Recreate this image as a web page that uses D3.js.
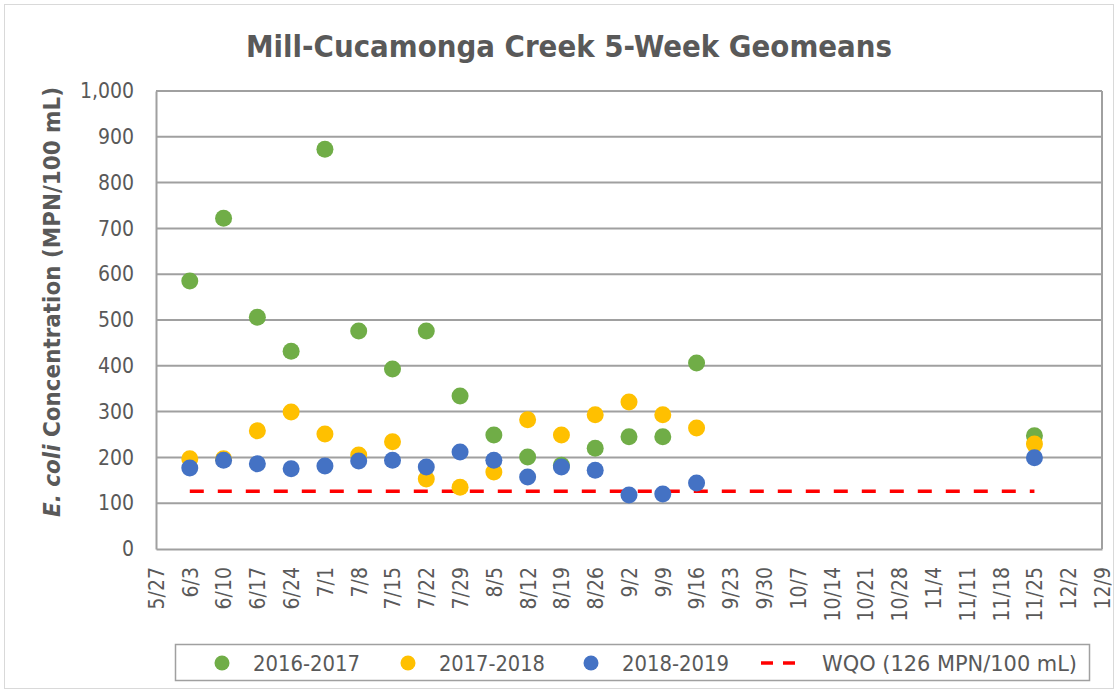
<!DOCTYPE html>
<html>
<head>
<meta charset="utf-8">
<script src="https://cdn.jsdelivr.net/npm/d3@7"></script>
<style>
  body { margin: 0; background: #fff; }
  svg text { font-family: "Liberation Sans Narrow", "DejaVu Sans Condensed", "Open Sans", sans-serif; fill: #595959; }
</style>
</head>
<body>
<div id="chart"></div>
<script>
// week-start tick labels along the x axis
const tickLabels = ['5/27', '6/3', '6/10', '6/17', '6/24', '7/1', '7/8', '7/15', '7/22', '7/29',
  '8/5', '8/12', '8/19', '8/26', '9/2', '9/9', '9/16', '9/23', '9/30', '10/7', '10/14',
  '10/21', '10/28', '11/4', '11/11', '11/18', '11/25', '12/2', '12/9']

// sample dates (5-week geomean end dates)
const sampleDates = ['6/3', '6/10', '6/17', '6/24', '7/1', '7/8', '7/15', '7/22', '7/29',
  '8/5', '8/12', '8/19', '8/26', '9/2', '9/9', '9/16', '11/25']

const values2016 = [585, 722, 506, 432, 873, 476, 393, 476, 334, 249, 201, 183, 220, 245, 245, 406, 247]
const values2017 = [197, 197, 258, 299, 251, 205, 234, 153, 135, 168, 282, 249, 293, 321, 293, 264, 229]
const values2018 = [177, 194, 186, 175, 181, 192, 194, 179, 212, 194, 157, 179, 172, 118, 120, 144, 199]

const wqo = 126
const wqoRange = ['6/3', '11/25']
const yTicks = [0, 100, 200, 300, 400, 500, 600, 700, 800, 900, 1000]

const seriesNames = ['2016-2017', '2017-2018', '2018-2019']
const seriesColors = ['#70ad47', '#ffc000', '#4472c4']

const parseDay = s => {
    const [m, d] = s.split('/').map(Number)
    return new Date(2018, m - 1, d)
}

const series = [values2016, values2017, values2018].map((vals, i) => ({
    name: seriesNames[i],
    color: seriesColors[i],
    data: vals.map((v, j) => ({ date: parseDay(sampleDates[j]), value: v })),
}))

const W = 1118, H = 690
const margin = { top: 91, right: 16, bottom: 141, left: 156 }
const width = W - margin.left - margin.right
const height = H - margin.top - margin.bottom

const svg = d3.select('#chart').append('svg')
    .attr('width', W)
    .attr('height', H)

// outer chart border
svg.append('rect')
    .attr('x', 4.5).attr('y', 4.5)
    .attr('width', W - 9).attr('height', H - 6)
    .attr('fill', '#fff')
    .attr('stroke', '#d9d9d9')

svg.append('text')
    .attr('x', 569)
    .attr('y', 57)
    .attr('text-anchor', 'middle')
    .attr('textLength', 646)
    .attr('lengthAdjust', 'spacingAndGlyphs')
    .style('font-size', '30px')
    .style('font-weight', '600')
    .text('Mill-Cucamonga Creek 5-Week Geomeans')

const g = svg.append('g')
    .attr('transform', 'translate(' + margin.left + ',' + margin.top + ')')

const x = d3.scaleTime()
    .domain([parseDay(tickLabels[0]), parseDay(tickLabels[tickLabels.length - 1])])
    .range([0, width])

const y = d3.scaleLinear()
    .domain([0, 1000])
    .range([height, 0])

// gridlines
g.append('g')
    .selectAll('line')
    .data(yTicks.filter(d => d > 0))
    .enter().append('line')
        .attr('x1', 0).attr('x2', width)
        .attr('y1', d => y(d)).attr('y2', d => y(d))
        .attr('stroke', '#a0a0a0')
        .attr('stroke-width', 2)

const yAxis = d3.axisLeft(y)
    .tickValues(yTicks)
    .tickFormat(d3.format(','))
    .tickSize(0)
    .tickPadding(22)

g.append('g')
    .attr('class', 'axis axis--y')
    .call(yAxis)
    .call(a => a.select('.domain').attr('stroke', '#a0a0a0').attr('stroke-width', 2))
    .selectAll('text')
        .style('font-size', '21px')
        .style('fill', '#595959')

const xAxis = d3.axisBottom(x)
    .tickValues(tickLabels.map(parseDay))
    .tickFormat(d => (d.getMonth() + 1) + '/' + d.getDate())
    .tickSize(0)

g.append('g')
    .attr('class', 'axis axis--x')
    .attr('transform', 'translate(0,' + height + ')')
    .call(xAxis)
    .call(a => a.select('.domain').attr('stroke', '#a0a0a0').attr('stroke-width', 2))
    .selectAll('text')
        .attr('transform', 'rotate(-90)')
        .attr('x', -18)
        .attr('y', 0)
        .attr('dy', '0.35em')
        .attr('text-anchor', 'end')
        .style('font-size', '21px')
        .style('fill', '#595959')

// right border of plot area
g.append('line')
    .attr('x1', width).attr('x2', width)
    .attr('y1', 0).attr('y2', height)
    .attr('stroke', '#a0a0a0')
    .attr('stroke-width', 2)

// y axis title
const yTitle = svg.append('text')
    .attr('transform', 'translate(60,302) rotate(-90)')
    .attr('text-anchor', 'middle')
    .attr('textLength', 430)
    .attr('lengthAdjust', 'spacingAndGlyphs')
    .style('font-size', '23px')
    .style('font-weight', '600')
yTitle.append('tspan').style('font-style', 'italic').text('E. coli')
yTitle.append('tspan').text(' Concentration (MPN/100 mL)')

// WQO line
g.append('line')
    .attr('x1', x(parseDay(wqoRange[0])))
    .attr('x2', x(parseDay(wqoRange[1])))
    .attr('y1', y(wqo)).attr('y2', y(wqo))
    .attr('stroke', '#ff0000')
    .attr('stroke-width', 3.5)
    .attr('stroke-dasharray', '14,14')

// points
const groups = g.selectAll('.season')
    .data(series)
    .enter().append('g')
        .attr('class', 'season')

groups.selectAll('circle')
    .data(d => d.data.map(p => Object.assign({ color: d.color }, p)))
    .enter().append('circle')
        .attr('cx', d => x(d.date))
        .attr('cy', d => y(d.value))
        .attr('r', 8.5)
        .attr('fill', d => d.color)

// legend
const legend = svg.append('g')
legend.append('rect')
    .attr('x', 175.5).attr('y', 644.5)
    .attr('width', 914).attr('height', 36)
    .attr('fill', '#fff')
    .attr('stroke', '#a0a0a0')
    .attr('stroke-width', 1.5)

const legendItems = [
    { label: seriesNames[0], color: seriesColors[0], type: 'dot', x: 222, len: 107 },
    { label: seriesNames[1], color: seriesColors[1], type: 'dot', x: 408, len: 106 },
    { label: seriesNames[2], color: seriesColors[2], type: 'dot', x: 591, len: 107 },
    { label: 'WQO (126 MPN/100 mL)', color: '#ff0000', type: 'dash', x: 780, len: 255 },
]
const li = legend.selectAll('.item')
    .data(legendItems)
    .enter().append('g')
        .attr('class', 'item')
        .attr('transform', d => 'translate(' + d.x + ',663)')

li.filter(d => d.type === 'dot').append('circle')
    .attr('r', 7.5)
    .attr('fill', d => d.color)

li.filter(d => d.type === 'dash').append('line')
    .attr('x1', -19).attr('x2', 19)
    .attr('stroke', d => d.color)
    .attr('stroke-width', 3.5)
    .attr('stroke-dasharray', '12,10')

li.append('text')
    .attr('x', d => d.type === 'dot' ? 31 : 42)
    .attr('dy', '0.35em')
    .attr('textLength', d => d.len)
    .attr('lengthAdjust', 'spacingAndGlyphs')
    .style('font-size', '22px')
    .text(d => d.label)
</script>
</body>
</html>
